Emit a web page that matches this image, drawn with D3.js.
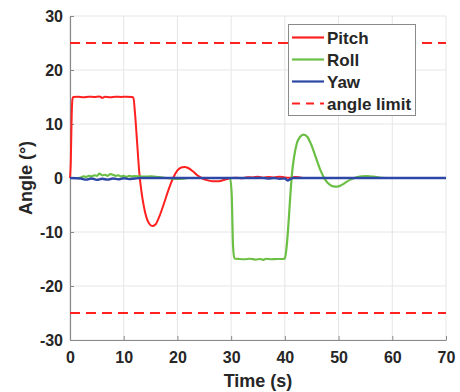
<!DOCTYPE html>
<html>
<head>
<meta charset="utf-8">
<script src="https://cdn.jsdelivr.net/npm/d3@7"></script>
<style>
  body { margin: 0; background: #fff; }
  svg { display: block; font-family: "Liberation Sans", Arial, sans-serif; font-weight: bold; }
</style>
</head>
<body>
<svg id="chart"></svg>
<script>
const X_TICKS = [0, 10, 20, 30, 40, 50, 60, 70];
const Y_TICKS = [-30, -20, -10, 0, 10, 20, 30];
const LIMITS = [25, -25];

// [time (s), angle (deg)]
const PITCH = [
    [0, 0], [0.15, 3], [0.3, 11], [0.45, 14.6], [0.6, 15], [1.5, 15.05], [2.5, 14.95],
    [3.5, 15.05], [4.5, 15], [5.5, 15.1], [6, 14.85], [6.5, 15.05], [7.5, 14.95],
    [8.5, 15.05], [9.5, 15], [10.5, 15.05], [11.5, 15], [11.8, 14.9], [12.1, 12],
    [12.5, 6.5], [12.9, 1], [13.3, -2.5], [13.7, -5], [14.2, -7.2], [14.7, -8.4],
    [15.3, -8.9], [15.9, -8.6], [16.6, -7.2], [17.4, -5], [18.3, -2.3], [19.2, 0],
    [20, 1.4], [20.7, 1.95], [21.3, 2.05], [22, 1.85], [22.8, 1.3], [23.7, 0.5],
    [24.5, 0], [25.5, -0.4], [26.5, -0.6], [27.3, -0.62], [28.2, -0.5], [29.2, -0.2],
    [30, 0], [31, 0.05], [32, -0.05], [33, 0.15], [34, 0.1], [35, 0.25], [36, 0.05],
    [37, 0.2], [38, 0.1], [39, 0.25], [40, 0.1], [41, 0.05], [42, 0.2], [43, 0.05],
    [44, 0], [70, 0]
];

const ROLL = [
    [0, 0], [1, 0], [2, 0.1], [2.5, 0.3], [3, 0.2], [3.5, 0.4], [4, 0.3], [4.5, 0.5],
    [5, 0.4], [5.5, 0.8], [6, 0.5], [6.5, 0.6], [7, 0.4], [7.5, 0.7], [8, 0.6],
    [8.5, 0.4], [9, 0.5], [9.5, 0.3], [10, 0.4], [10.5, 0.2], [11, 0.4], [11.5, 0.3],
    [12, 0.35], [13, 0.3], [14, 0.25], [15, 0.3], [16, 0.2], [17, 0.1], [18, 0],
    [19, -0.1], [20, -0.15], [21, -0.1], [22, 0], [26, 0], [29.8, 0], [30.1, -3],
    [30.35, -12.5], [30.6, -14.9], [31.5, -15], [32.5, -15.05], [33.5, -14.95],
    [34.5, -15.1], [35.5, -15], [36, -15.15], [36.5, -14.95], [37.5, -15.05],
    [38.5, -15], [39.5, -15], [40, -14.9], [40.3, -13], [40.6, -9.5], [41, -3.5],
    [41.3, 0.5], [41.7, 3.8], [42.2, 6.3], [42.8, 7.6], [43.5, 8.05], [44.2, 7.6],
    [44.9, 6.2], [45.7, 4], [46.6, 1.5], [47.5, -0.3], [48.3, -1.2], [49, -1.55],
    [49.7, -1.6], [50.4, -1.4], [51.2, -0.9], [52.2, -0.3], [53.2, 0.1], [54.3, 0.3],
    [55.3, 0.35], [56.5, 0.25], [58, 0.05], [60, 0], [70, 0]
];

const YAW = [
    [0, 0], [2, -0.1], [3, -0.3], [4, -0.1], [5, -0.35], [6, -0.15], [7, -0.3],
    [8, -0.1], [9, -0.25], [10, -0.05], [11, -0.2], [12, -0.1], [13, 0], [30, 0],
    [36, 0], [37, -0.1], [38, 0], [39, -0.15], [40, -0.1], [40.5, -0.45], [41, -0.2],
    [41.5, 0], [70, 0]
];

const SERIES = [
    { name: 'Pitch', data: PITCH, color: '#ff2020', width: 2 },
    { name: 'Roll', data: ROLL, color: '#6cbf45', width: 2.2 },
    { name: 'Yaw', data: YAW, color: '#2c47a6', width: 2.4 }
];

const WIDTH = 460;
const HEIGHT = 392;
const PLOT = { left: 70, right: 446, top: 16, bottom: 340 };
const TEXT = '#262626';

const xScale = d3.scaleLinear().domain([0, 70]).range([PLOT.left, PLOT.right]);
const yScale = d3.scaleLinear().domain([-30, 30]).range([PLOT.bottom, PLOT.top]);

const svg = d3.select('#chart')
    .attr('width', WIDTH)
    .attr('height', HEIGHT);

// grid
const grid = svg.append('g');
grid.selectAll('.vgrid')
    .data(X_TICKS)
    .enter()
    .append('line')
    .attr('x1', d => xScale(d))
    .attr('x2', d => xScale(d))
    .attr('y1', PLOT.top)
    .attr('y2', PLOT.bottom)
    .attr('stroke', '#e6e6e6')
    .attr('stroke-width', 1);
grid.selectAll('.hgrid')
    .data(Y_TICKS)
    .enter()
    .append('line')
    .attr('x1', PLOT.left)
    .attr('x2', PLOT.right)
    .attr('y1', d => yScale(d))
    .attr('y2', d => yScale(d))
    .attr('stroke', '#e6e6e6')
    .attr('stroke-width', 1);

// axes (hyphen minus like the original)
const fmt = d => String(d);
const xAxis = svg.append('g')
    .attr('transform', `translate(0, ${PLOT.bottom})`)
    .call(d3.axisBottom(xScale).tickValues(X_TICKS).tickFormat(fmt).tickSize(-4).tickPadding(12).tickSizeOuter(0));
const yAxis = svg.append('g')
    .attr('transform', `translate(${PLOT.left}, 0)`)
    .call(d3.axisLeft(yScale).tickValues(Y_TICKS).tickFormat(fmt).tickSize(-4).tickPadding(7).tickSizeOuter(0));

[xAxis, yAxis].forEach(a => {
    a.select('.domain').attr('stroke', '#8a8a8a').attr('stroke-width', 1.2);
    a.selectAll('.tick line').attr('stroke', '#8a8a8a');
    a.selectAll('.tick text')
        .attr('fill', TEXT)
        .style('font-size', '16px')
        .style('font-family', '"Liberation Sans", Arial, sans-serif')
        .style('font-weight', 'bold');
});

svg.append('text')
    .attr('x', (PLOT.left + PLOT.right) / 2)
    .attr('y', 387)
    .attr('text-anchor', 'middle')
    .attr('fill', TEXT)
    .style('font-size', '18px')
    .text('Time (s)');

svg.append('text')
    .attr('transform', `translate(32, ${(PLOT.top + PLOT.bottom) / 2}) rotate(-90)`)
    .attr('text-anchor', 'middle')
    .attr('fill', TEXT)
    .style('font-size', '18px')
    .text('Angle (°)');

// angle limits
svg.selectAll('.limit')
    .data(LIMITS)
    .enter()
    .append('line')
    .classed('limit', true)
    .attr('x1', PLOT.left)
    .attr('x2', PLOT.right)
    .attr('y1', d => yScale(d))
    .attr('y2', d => yScale(d))
    .attr('stroke', '#ff2020')
    .attr('stroke-width', 2.2)
    .attr('stroke-dasharray', '10,6');

// series
const line = d3.line()
    .x(d => xScale(d[0]))
    .y(d => yScale(d[1]))
    .curve(d3.curveMonotoneX);

svg.selectAll('.series')
    .data(SERIES)
    .enter()
    .append('path')
    .classed('series', true)
    .attr('d', s => line(s.data))
    .attr('fill', 'none')
    .attr('stroke', s => s.color)
    .attr('stroke-width', s => s.width)
    .attr('stroke-linejoin', 'round');

// legend
const legendItems = SERIES.map(s => ({ name: s.name, color: s.color, dash: null }))
    .concat([{ name: 'angle limit', color: '#ff2020', dash: '8,6' }]);

const legend = svg.append('g').attr('transform', 'translate(288, 24)');
legend.append('rect')
    .attr('x', 0.5)
    .attr('y', 0.5)
    .attr('width', 127)
    .attr('height', 91)
    .attr('fill', '#fff')
    .attr('stroke', '#8a8a8a')
    .attr('stroke-width', 1);

const rows = legend.selectAll('.row')
    .data(legendItems)
    .enter()
    .append('g')
    .attr('transform', (d, i) => `translate(0, ${13.5 + i * 22})`);

rows.append('line')
    .attr('x1', 4)
    .attr('x2', 36)
    .attr('stroke', d => d.color)
    .attr('stroke-width', 2.2)
    .attr('stroke-dasharray', d => d.dash);

rows.append('text')
    .attr('x', 39)
    .attr('dy', '0.36em')
    .attr('fill', TEXT)
    .style('font-size', '17px')
    .text(d => d.name);
</script>
</body>
</html>
